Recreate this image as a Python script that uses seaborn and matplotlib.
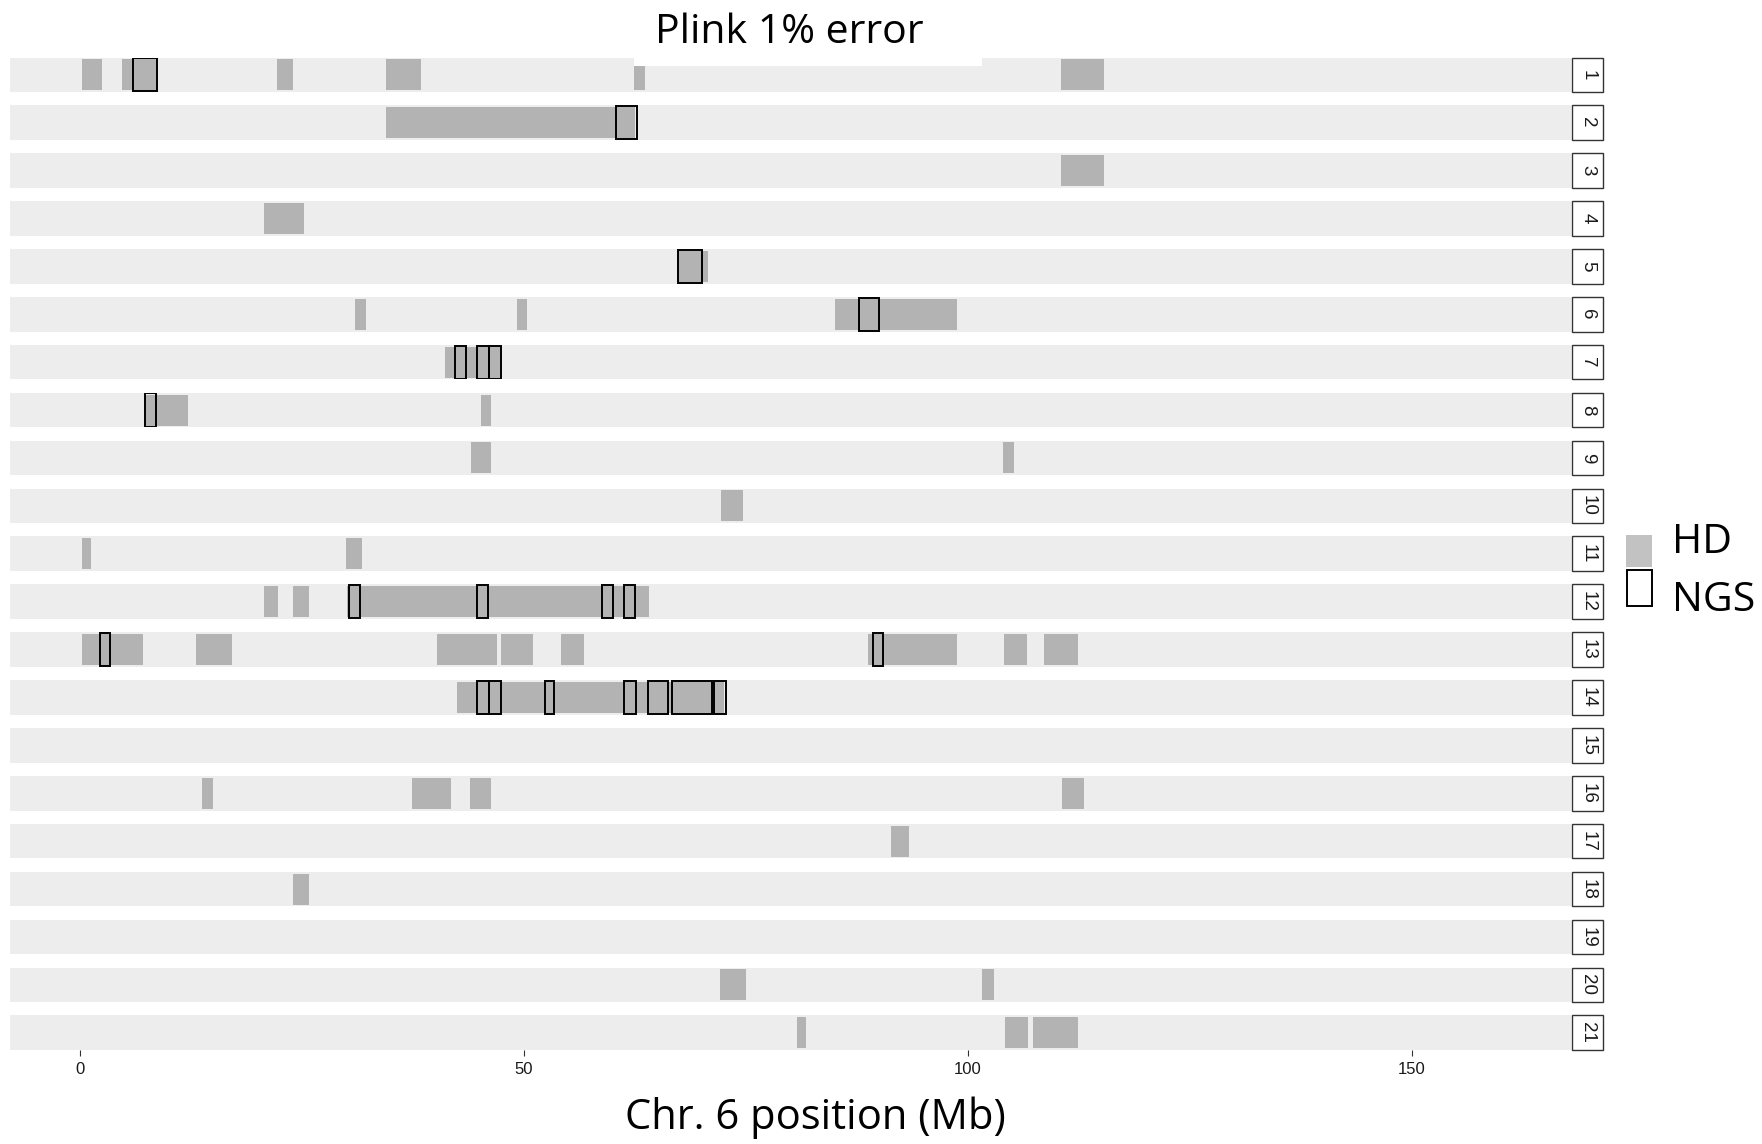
import numpy as np
import pandas as pd
import matplotlib
matplotlib.use("Agg")
import matplotlib.pyplot as plt
from matplotlib.patches import Rectangle
import seaborn as sns

# ---------------- data (Mb) ----------------
hd_row = [1, 1, 1, 1, 1, 1, 1,
          2,
          3,
          4,
          5,
          6, 6, 6,
          7,
          8, 8,
          9, 9,
          10,
          11, 11,
          12, 12, 12,
          13, 13, 13, 13, 13, 13, 13, 13, 13, 13,
          14,
          16, 16, 16, 16,
          17,
          18,
          20, 20,
          21, 21, 21]
hd_start = [0.2, 4.7, 22.2, 34.4, 36.9, 62.4, 110.5,
            34.4,
            110.5,
            20.7,
            67.3,
            30.9, 49.2, 85.0,
            41.1,
            7.3, 45.1,
            44.0, 103.9,
            72.2,
            0.2, 29.9,
            20.7, 24.0, 30.1,
            0.2, 13.0, 14.2, 40.2, 47.4, 54.1, 88.7, 104.0, 108.5, 110.4,
            42.4,
            13.7, 37.4, 43.9, 110.6,
            91.3,
            24.0,
            72.1, 101.6,
            80.7, 104.2, 107.3]
hd_end = [2.5, 8.5, 24.0, 36.9, 38.4, 63.6, 115.3,
          62.5,
          115.3,
          25.2,
          70.7,
          32.2, 50.3, 98.7,
          47.3,
          12.1, 46.3,
          46.3, 105.2,
          74.7,
          1.2, 31.7,
          22.3, 25.8, 64.1,
          7.1, 14.2, 17.1, 47.0, 51.0, 56.7, 98.7, 106.6, 110.4, 112.4,
          72.5,
          15.0, 41.8, 46.3, 113.0,
          93.3,
          25.8,
          75.0, 102.9,
          81.7, 106.7, 112.4]

ngs_row = [1, 2, 5, 6, 7, 7, 7, 8,
           12, 12, 12, 12,
           13, 13,
           14, 14, 14, 14, 14, 14, 14]
ngs_start = [5.9, 60.4, 67.3, 87.7, 42.2, 44.7, 46.1, 7.3,
             30.3, 44.7, 58.8, 61.3,
             2.2, 89.3,
             44.7, 46.1, 52.3, 61.3, 64.0, 66.6, 71.4]
ngs_end = [8.6, 62.7, 70.0, 90.0, 43.4, 46.0, 47.4, 8.5,
           31.5, 45.9, 60.0, 62.5,
           3.4, 90.4,
           46.0, 47.4, 53.4, 62.6, 66.2, 71.2, 72.7]

rows = list(range(1, 22))
x_ticks = [0, 50, 100, 150]
title_text = "Plink 1% error"
x_label = "Chr. 6 position (Mb)"
legend_labels = ["HD", "NGS"]

# ---------------- styling ----------------
W, H = 1762, 1144
HD_COLOR = "#B3B3B3"
PANEL_BG = "#EDEDED"

sns.set_theme(style="white")
plt.rcParams["font.family"] = ["Liberation Sans", "DejaVu Sans"]

df = pd.concat([
    pd.DataFrame({"row": hd_row, "start": hd_start, "end": hd_end, "kind": "HD"}),
    pd.DataFrame({"row": ngs_row, "start": ngs_start, "end": ngs_end, "kind": "NGS"}),
], ignore_index=True)

g = sns.FacetGrid(df, row="row", row_order=rows, height=0.5, aspect=30,
                  sharex=True, sharey=True, despine=False)


def draw_segments(data, **kws):
    ax = plt.gca()
    hd = data[data["kind"] == "HD"]
    ngs = data[data["kind"] == "NGS"]
    if len(hd):
        ax.barh(np.zeros(len(hd)), hd["end"] - hd["start"], left=hd["start"],
                height=0.9, color=HD_COLOR, linewidth=0, zorder=2)
    if len(ngs):
        ax.barh(np.zeros(len(ngs)), ngs["end"] - ngs["start"], left=ngs["start"],
                height=0.96, facecolor="none", edgecolor="black",
                linewidth=1.4, zorder=3)


g.map_dataframe(draw_segments)
g.set_titles(template="", row_template="", col_template="")
g.set_axis_labels("", "")

fig = g.figure
fig.set_size_inches(W / 100, H / 100)
fig.set_dpi(100)
fig.subplots_adjust(left=10 / W, right=1571 / W, top=1 - 57.5 / H,
                    bottom=1 - 1050 / H, hspace=0.388)

axes = g.axes.flatten()
for i, (ax, r) in enumerate(zip(axes, rows)):
    ax.set_facecolor(PANEL_BG)
    ax.set_xlim(-7.9, 167.9)
    ax.set_ylim(-0.5, 0.5)
    ax.set_yticks([])
    ax.set_ylabel("")
    ax.set_title("")
    for s in ax.spines.values():
        s.set_visible(False)
    # strip box on right
    ax.add_patch(Rectangle((1.0008, 0.0), 0.0199, 1.0, transform=ax.transAxes,
                           facecolor="white", edgecolor="#333333",
                           linewidth=1.0, clip_on=False, zorder=5))
    ax.text(1.0108, 0.5, str(r), transform=ax.transAxes, rotation=-90,
            ha="center", va="center", fontsize=13.5, color="#1A1A1A",
            clip_on=False, zorder=6)
    if i < len(rows) - 1:
        ax.tick_params(axis="x", bottom=False, labelbottom=False)
    else:
        ax.set_xticks(x_ticks)
        ax.set_xticklabels([str(t) for t in x_ticks])
        ax.tick_params(axis="x", bottom=True, labelbottom=True, length=4,
                       width=0.8, color="#333333", pad=5, labelsize=12,
                       labelcolor="#1A1A1A")

# title with white background box
fig.patches.append(Rectangle((634 / W, 1 - 66 / H), (982 - 634) / W, 66 / H,
                             transform=fig.transFigure, facecolor="white",
                             edgecolor="none", zorder=10))
fig.text(789 / W, 1 - 43 / H, title_text, ha="center", va="baseline",
         fontsize=29.5, family=["Open Sans", "DejaVu Sans"], color="black",
         zorder=11)

# x axis title
fig.text(815 / W, 1 - 1129 / H, x_label, ha="center", va="baseline",
         fontsize=30, family=["Open Sans", "DejaVu Sans"], color="black")

# legend (drawn as keys + labels)
fig.patches.append(Rectangle((1626 / W, 1 - 567 / H), 26 / W, 32 / H,
                             transform=fig.transFigure, facecolor="#C2C2C2",
                             edgecolor="none", zorder=10))
fig.patches.append(Rectangle((1627 / W, 1 - 606 / H), 25 / W, 36 / H,
                             transform=fig.transFigure, facecolor="white",
                             edgecolor="black", linewidth=1.4, zorder=10))
fig.text(1672 / W, 1 - 553 / H, legend_labels[0], ha="left", va="baseline",
         fontsize=29.5, family=["Open Sans", "DejaVu Sans"], color="black")
fig.text(1672 / W, 1 - 611 / H, legend_labels[1], ha="left", va="baseline",
         fontsize=29.5, family=["Open Sans", "DejaVu Sans"], color="black")

fig.savefig("out.png", dpi=100, facecolor="white")
